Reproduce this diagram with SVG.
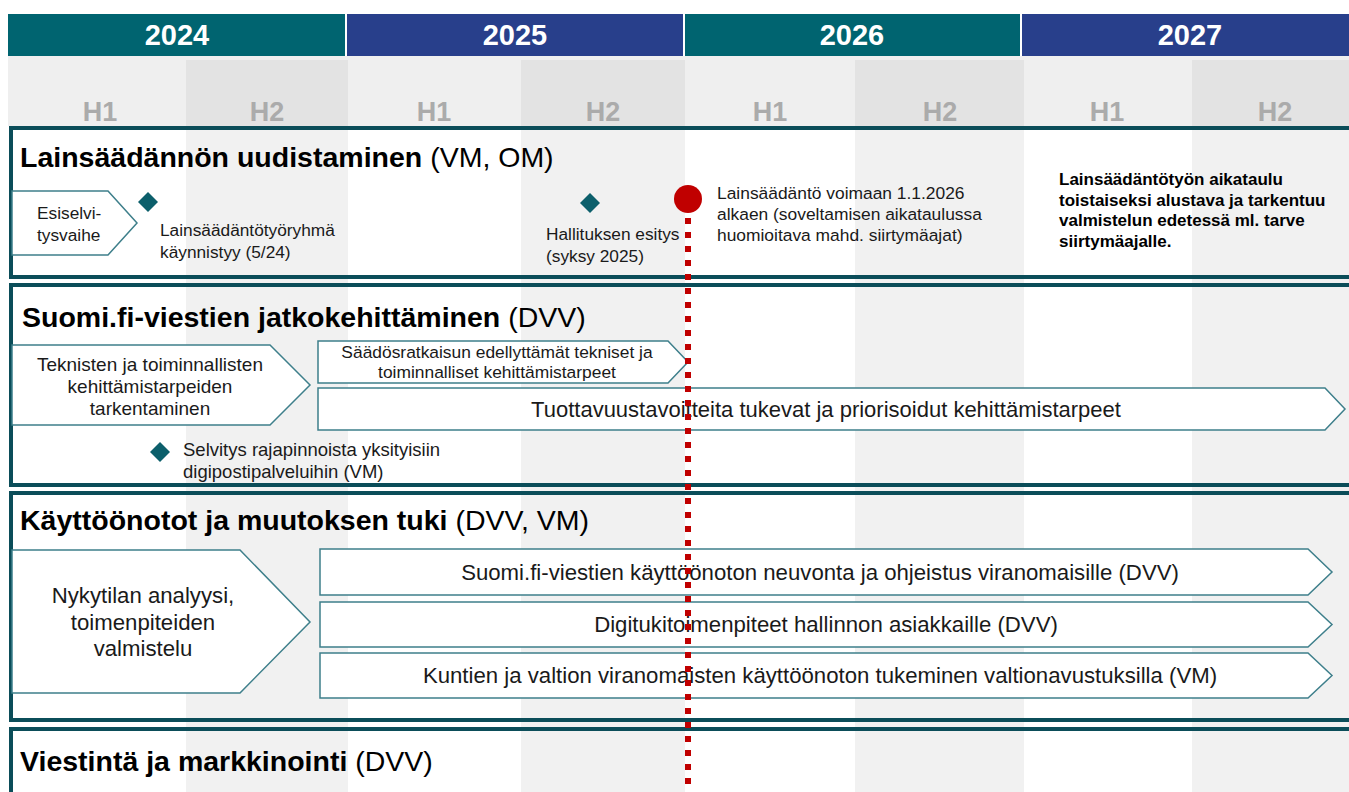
<svg xmlns="http://www.w3.org/2000/svg" width="1349" height="792" viewBox="0 0 1349 792">
<style>
text{font-family:"Liberation Sans",Arial,sans-serif;fill:#1a1a1a}
.yr{font-size:29px;font-weight:bold;fill:#fff;text-anchor:middle}
.h{font-size:27px;font-weight:bold;fill:#ababab;text-anchor:middle}
.ttl{font-size:28.5px;fill:#000}
.ttl .b{font-weight:bold}
.t17{font-size:17.3px}
.t18{font-size:18.5px}
.t19{font-size:19px}
.s17{font-size:17.4px}
.c{text-anchor:middle}
.t22{font-size:22.2px}
.bold17{font-size:17px;font-weight:bold;fill:#000}
.panel{fill:none;stroke:#0b4d59;stroke-width:4}
.shape{fill:#fff;stroke:#3e7f8b;stroke-width:1.5}
.dia{fill:#0c5f6b}
</style>
<rect width="1349" height="792" fill="#fff"/>
<g id="grid">
<rect x="8" y="56" width="1341" height="70" fill="#efefef"/>
<rect x="186" y="60" width="162" height="66" fill="#e3e3e3"/>
<rect x="521" y="60" width="164" height="66" fill="#e3e3e3"/>
<rect x="855" y="60" width="169" height="66" fill="#e3e3e3"/>
<rect x="1192" y="60" width="157" height="66" fill="#e3e3e3"/>
<rect x="186" y="126" width="162" height="666" fill="#f1f1f1"/>
<rect x="521" y="126" width="164" height="666" fill="#f1f1f1"/>
<rect x="855" y="126" width="169" height="666" fill="#f1f1f1"/>
<rect x="1192" y="126" width="157" height="666" fill="#f1f1f1"/>
</g>
<g id="years">
<rect x="8" y="14" width="337" height="42" fill="#006470"/>
<rect x="347" y="14" width="336" height="42" fill="#283f8b"/>
<rect x="685" y="14" width="335" height="42" fill="#006470"/>
<rect x="1022" y="14" width="327" height="42" fill="#283f8b"/>
<text class="yr" x="177" y="45">2024</text>
<text class="yr" x="515" y="45">2025</text>
<text class="yr" x="852" y="45">2026</text>
<text class="yr" x="1190" y="45">2027</text>
</g>
<g id="halves">
<text class="h" x="100" y="121">H1</text>
<text class="h" x="267" y="121">H2</text>
<text class="h" x="434" y="121">H1</text>
<text class="h" x="603" y="121">H2</text>
<text class="h" x="770" y="121">H1</text>
<text class="h" x="940" y="121">H2</text>
<text class="h" x="1107" y="121">H1</text>
<text class="h" x="1275" y="121">H2</text>
</g>
<g id="panels">
<rect class="panel" x="11" y="128" width="1345" height="149"/>
<rect class="panel" x="11" y="285" width="1345" height="200"/>
<rect class="panel" x="11" y="493" width="1345" height="227"/>
<rect class="panel" x="11" y="729" width="1345" height="80"/>
</g>
<g id="row1">
<text class="ttl" x="20" y="167"><tspan class="b">Lainsäädännön uudistaminen</tspan> (VM, OM)</text>
<g id="esiselvitys">
<path class="shape" d="M12 191H108L137 223L108 255H12Z"/>
<text class="t17" x="37" y="219">Esiselvi-</text>
<text class="t17" x="37" y="241">tysvaihe</text>
</g>
<g id="ms-tyoryhma">
<path class="dia" d="M148 192L158 202L148 212L138 202Z"/>
<text class="t17" x="160" y="236">Lainsäädäntötyöryhmä</text>
<text class="t17" x="160" y="258">käynnistyy (5/24)</text>
</g>
<g id="ms-he">
<path class="dia" d="M590 193L600 203L590 213L580 203Z"/>
<text class="t17" x="546" y="240">Hallituksen esitys</text>
<text class="t17" x="546" y="262">(syksy 2025)</text>
</g>
<g id="ms-voimaan">
<text class="s17" x="717" y="199">Lainsäädäntö voimaan 1.1.2026</text>
<text class="s17" x="717" y="220">alkaen (soveltamisen aikataulussa</text>
<text class="s17" x="717" y="241">huomioitava mahd. siirtymäajat)</text>
</g>
<g id="note">
<text class="bold17" x="1059" y="185">Lainsäädäntötyön aikataulu</text>
<text class="bold17" x="1059" y="205.5">toistaiseksi alustava ja tarkentuu</text>
<text class="bold17" x="1059" y="226">valmistelun edetessä ml. tarve</text>
<text class="bold17" x="1059" y="246.5">siirtymäajalle.</text>
</g>
</g>
<g id="row2">
<text class="ttl" x="22" y="327"><tspan class="b">Suomi.fi-viestien jatkokehittäminen</tspan> (DVV)</text>
<g id="tarkentaminen">
<path class="shape" d="M12 345H270L310 385L270 425H12Z"/>
<text class="t19 c" x="150" y="371">Teknisten ja toiminnallisten</text>
<text class="t19 c" x="150" y="393">kehittämistarpeiden</text>
<text class="t19 c" x="150" y="415">tarkentaminen</text>
</g>
<g id="saadosratkaisu">
<path class="shape" d="M318 341H668L688 362L668 383H318Z"/>
<text class="s17 c" x="497" y="358">Säädösratkaisun edellyttämät tekniset ja</text>
<text class="s17 c" x="497" y="378">toiminnalliset kehittämistarpeet</text>
</g>
<g id="tuottavuus">
<path class="shape" d="M318 388H1325L1345 409L1325 430H318Z"/>
<text class="c" style="font-size:22px" x="826" y="417">Tuottavuustavoitteita tukevat ja priorisoidut kehittämistarpeet</text>
</g>
<g id="ms-selvitys">
<path class="dia" d="M160 442L170 452L160 462L150 452Z"/>
<text class="t18" x="183" y="456">Selvitys rajapinnoista yksityisiin</text>
<text class="t18" x="183" y="478">digipostipalveluihin (VM)</text>
</g>
</g>
<g id="row3">
<text class="ttl" x="20" y="530"><tspan class="b">Käyttöönotot ja muutoksen tuki</tspan> (DVV, VM)</text>
<g id="nykytila">
<path class="shape" d="M12 550H240L310 622L240 693H12Z"/>
<text class="t22 c" x="143" y="603">Nykytilan analyysi,</text>
<text class="t22 c" x="143" y="630">toimenpiteiden</text>
<text class="t22 c" x="143" y="656">valmistelu</text>
</g>
<g id="neuvonta">
<path class="shape" d="M320 549H1308L1332 572L1308 595H320Z"/>
<text class="t22 c" x="820" y="580">Suomi.fi-viestien käyttöönoton neuvonta ja ohjeistus viranomaisille (DVV)</text>
</g>
<g id="digituki">
<path class="shape" d="M320 602H1308L1332 624.5L1308 647H320Z"/>
<text class="t22 c" x="826" y="632">Digitukitoimenpiteet hallinnon asiakkaille (DVV)</text>
</g>
<g id="valtionavustus">
<path class="shape" d="M320 653H1308L1332 675.5L1308 698H320Z"/>
<text class="t22 c" x="820" y="683">Kuntien ja valtion viranomaisten käyttöönoton tukeminen valtionavustuksilla (VM)</text>
</g>
</g>
<g id="row4">
<text class="ttl" x="20" y="771"><tspan class="b">Viestintä ja markkinointi</tspan> (DVV)</text>
</g>
<g id="connectors">
<line x1="688" y1="218" x2="688" y2="792" stroke="#c00000" stroke-width="6" stroke-dasharray="6 8"/>
<circle cx="688" cy="199" r="14" fill="#c00000"/>
</g>
</svg>
